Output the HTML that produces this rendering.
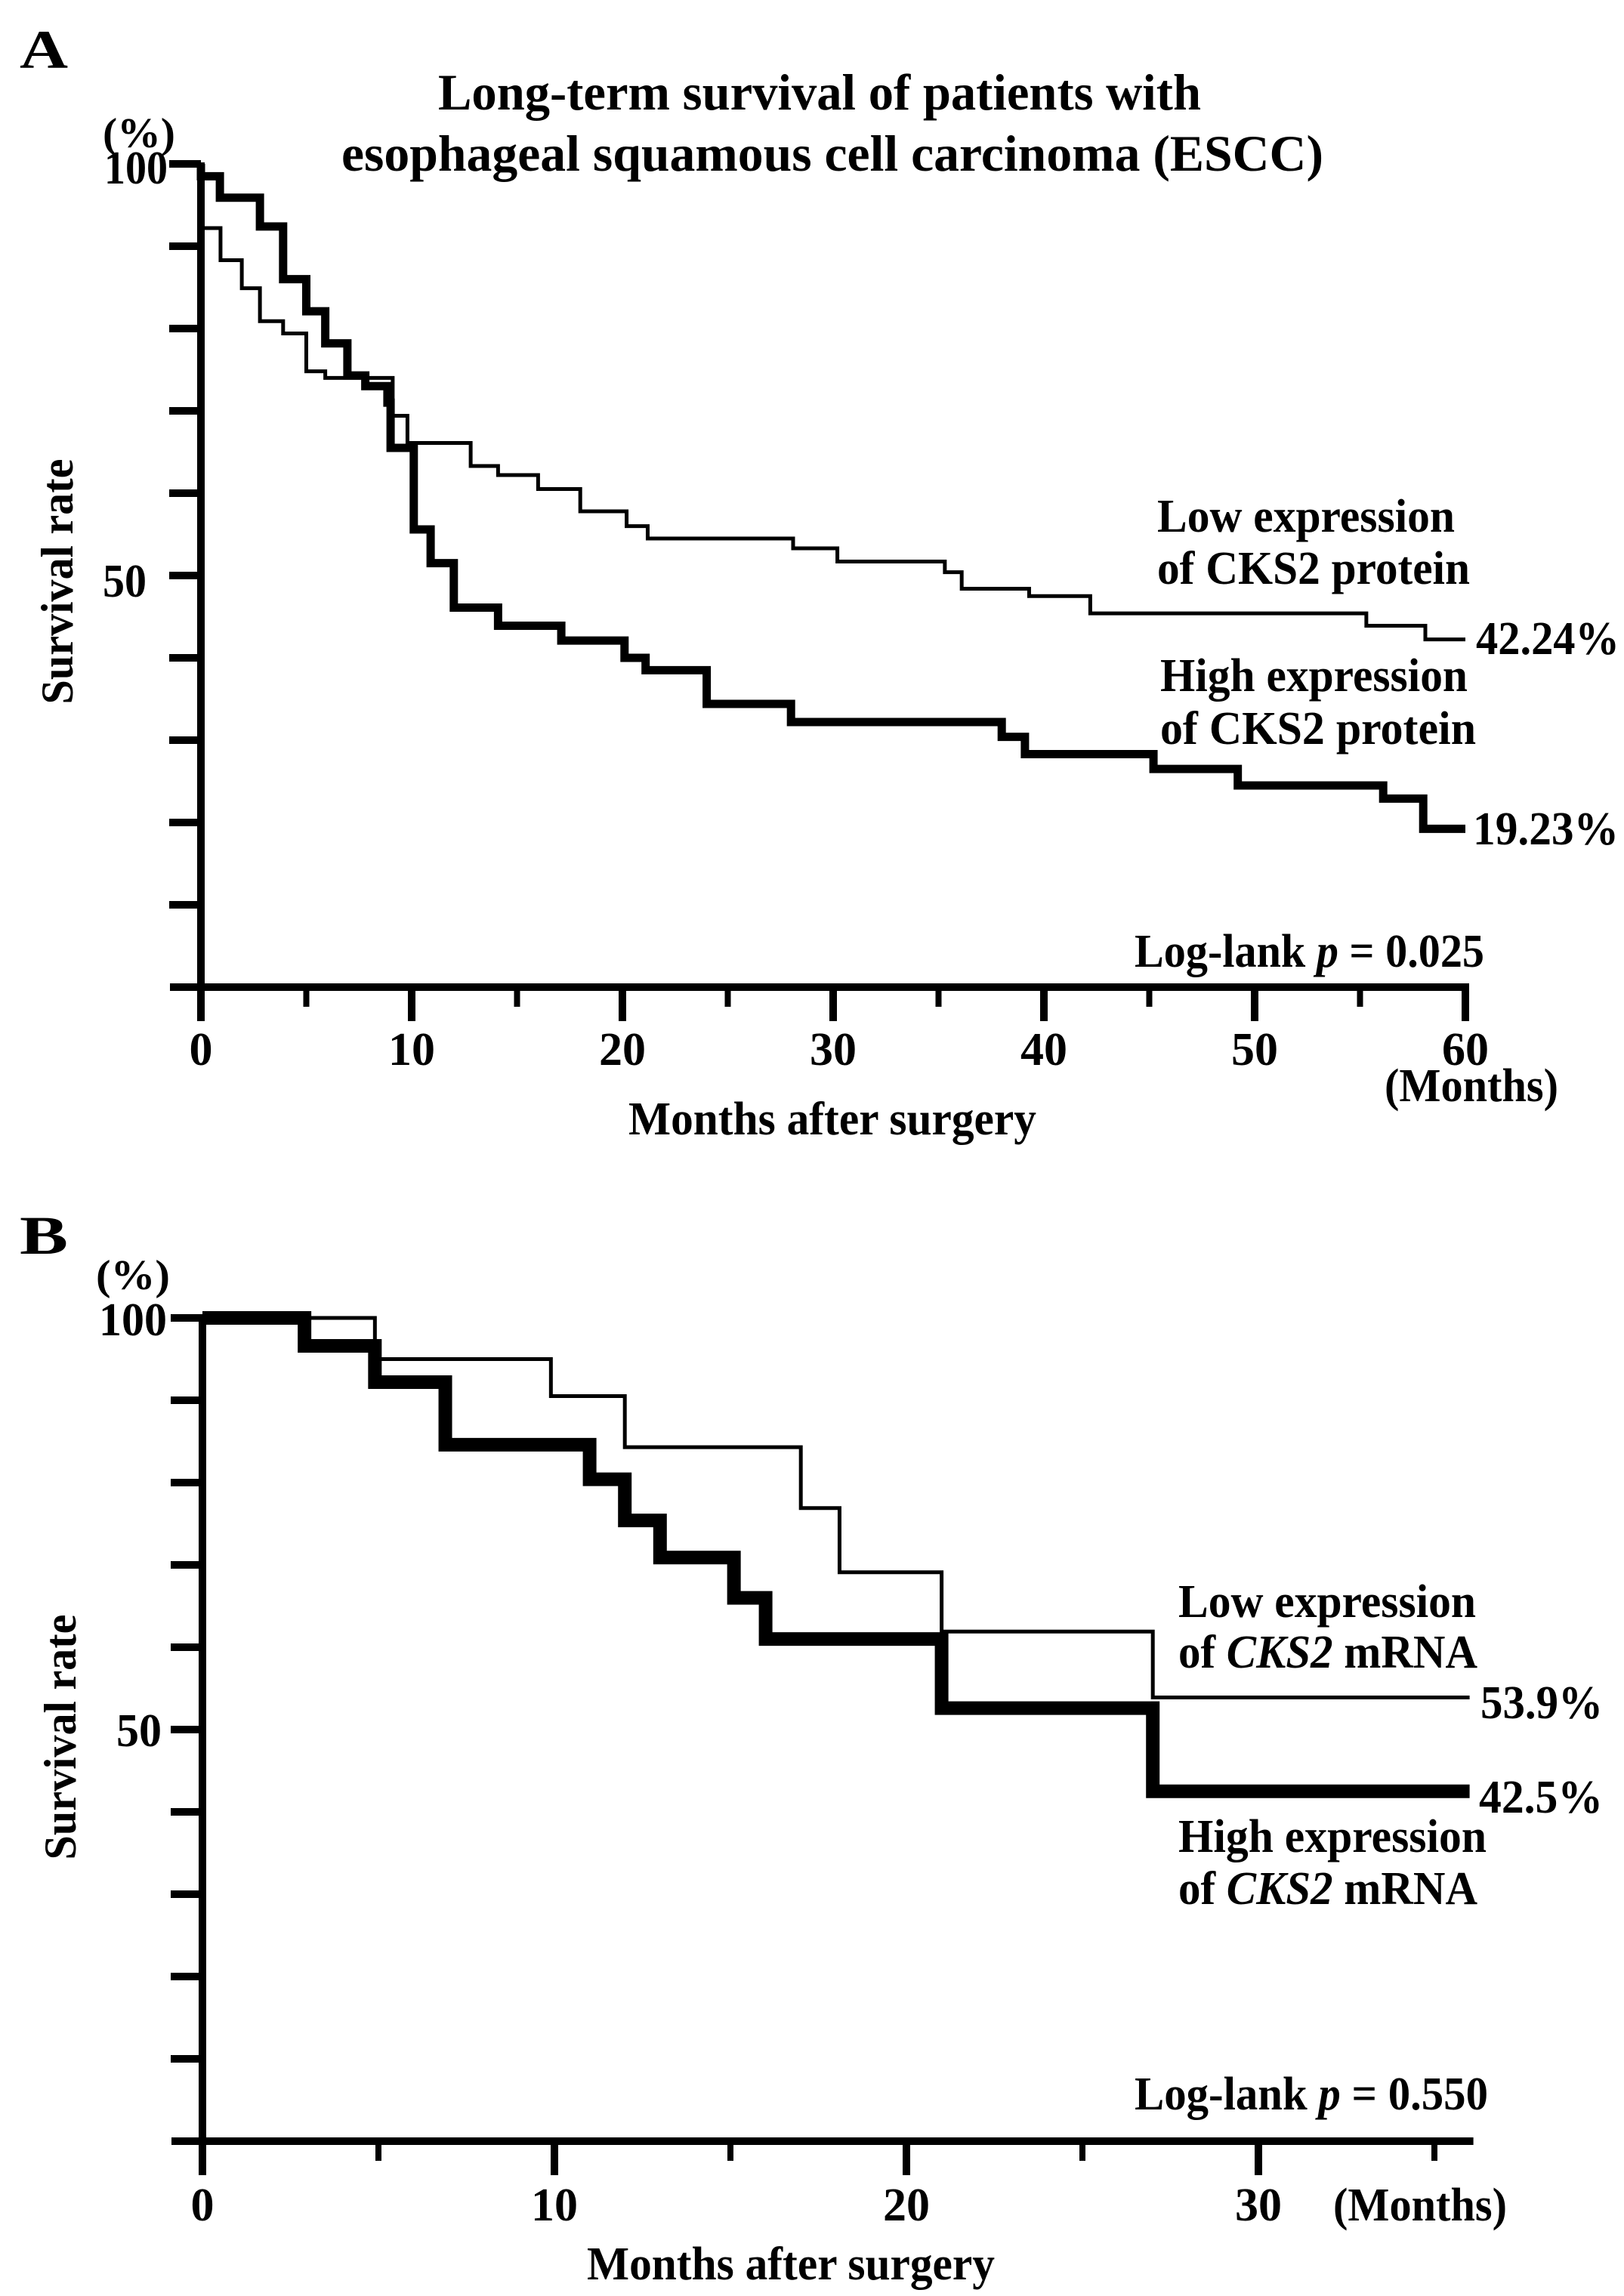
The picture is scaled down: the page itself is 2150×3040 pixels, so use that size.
<!DOCTYPE html>
<html><head><meta charset="utf-8">
<style>
html,body{margin:0;padding:0;background:#fff;}
svg{display:block;}
text{font-family:"Liberation Serif","Times New Roman",serif;font-weight:bold;fill:#000;}
</style></head>
<body>
<svg id="fig" width="2150" height="3040" viewBox="0 0 2150 3040" xmlns="http://www.w3.org/2000/svg">
<rect width="2150" height="3040" fill="#fff"/>
<g id="panelA"></g>
<g id="panelB"></g>
</svg>
<script>
// Panel A data (months, survival %)
const aHighTimes = [0,0.9,2.8,3.9,5.0,5.9,6.95,7.8,8.85,9.0,10.1,10.9,12.0,14.1,17.1,20.1,21.1,24.0,28.0,38.0,39.1,45.2,49.2,56.1,58.0];
const aHighVals  = [98.5,95.9,92.4,86,82.1,78.2,74.3,73,71,65.5,55.6,51.5,46.1,43.9,42.1,40.0,38.5,34.4,32.2,30.4,28.3,26.5,24.5,22.9,19.23];
const aLowTimes  = [0,0.93,1.94,2.8,3.9,5.0,5.9,9.1,9.8,12.8,14.1,16.0,18.0,20.2,21.2,28.1,30.2,35.3,36.1,39.3,42.2,55.3,58.1];
const aLowVals   = [92.2,88.3,84.9,80.9,79.4,74.8,74.0,69.4,66.1,63.3,62.2,60.5,57.8,56.0,54.5,53.3,51.7,50.4,48.4,47.5,45.4,43.9,42.24];
const aXTicks = [0,10,20,30,40,50,60];
const aXTickLabels = ["0","10","20","30","40","50","60"];
// Panel B data
const bHighTimes = [2.9,4.9,6.9,11.0,12.0,13.0,15.1,16.0,21.0,27.0];
const bHighVals  = [96.6,92.2,84.6,80.4,75.4,70.9,66.0,61.0,52.6,42.5];
const bLowTimes  = [4.9,9.9,12.0,17.0,18.1,21.0,27.0];
const bLowVals   = [95.0,90.5,84.3,76.9,69.1,61.9,53.9];
const bXTicks = [0,10,20,30];
const bXTickLabels = ["0","10","20","30"];

const NS = "http://www.w3.org/2000/svg";
function mk(tag, attrs, parent){
  const e = document.createElementNS(NS, tag);
  for (const k in attrs) e.setAttribute(k, attrs[k]);
  parent.appendChild(e);
  return e;
}
function txt(parent, x, y, s, size, anchor, len, name){
  const t = mk("text", {x:x, y:y, "font-size":size, "text-anchor":anchor||"start"}, parent);
  if (len){ t.setAttribute("textLength", len); t.setAttribute("lengthAdjust","spacingAndGlyphs"); }
  t.innerHTML = s;
  
  
  return t;
}

function panel(g, cfg){
  const X = m => cfg.x0 + m*cfg.ppm;
  const Y = p => cfg.y0 - p*(cfg.y0-cfg.y100)/100;
  const ya = mk("line",{x1:cfg.x0,y1:Y(100)-2,x2:cfg.x0,y2:Y(0)+5,stroke:"#000","stroke-width":10},g);
  
  
  for (let p=10;p<=100;p+=10){
    const t = mk("line",{x1:cfg.x0-42,y1:Y(p),x2:cfg.x0,y2:Y(p),stroke:"#000","stroke-width":10},g);
    
    
  }
  const xa = mk("line",{x1:cfg.x0-41,y1:Y(0),x2:X(cfg.xEnd)+5,y2:Y(0),stroke:"#000","stroke-width":10},g);
  
  
  for (let m=0;m<=cfg.xEnd+0.01;m+=5){
    const major = (m%10===0);
    const t = mk("line",{x1:X(m),y1:Y(0),x2:X(m),y2:Y(0)+(major?45:26),stroke:"#000","stroke-width":major?10:8},g);
    
    
  }
  cfg.ticks.forEach((m,i)=>{
    txt(g, X(m), cfg.tickBase, cfg.tickLabels[i], 62, "middle", null, "x-tick-label");
  });
  function curve(times, vals, end, w, name){
    let d = "M"+X(0)+","+Y(100);
    let cur = 100;
    for (let i=0;i<times.length;i++){
      d += " L"+X(times[i])+","+Y(cur)+" L"+X(times[i])+","+Y(vals[i]);
      cur = vals[i];
    }
    d += " L"+X(end)+","+Y(cur);
    const p = mk("path",{d:d,fill:"none",stroke:"#000","stroke-width":w,"stroke-linejoin":"miter","stroke-linecap":"butt"},g);
    
    
  }
  curve(cfg.lowT, cfg.lowV, cfg.xEnd, cfg.thinW, "low-expression-curve");
  curve(cfg.highT, cfg.highV, cfg.xEnd, cfg.thickW, "high-expression-curve");
}

const gA = document.getElementById("panelA");
panel(gA, {x0:266, ppm:27.9, y100:217, y0:1307, xEnd:60, ticks:aXTicks, tickLabels:aXTickLabels,
  tickBase:1410, highT:aHighTimes, highV:aHighVals, lowT:aLowTimes, lowV:aLowVals, thinW:5, thickW:11});
txt(gA, 26, 90, "A", 72, "start", 64, "panel-label-a");
txt(gA, 1085, 145, "Long-term survival of patients with", 68, "middle", 1010, "chart-title-line1");
txt(gA, 1102, 226, "esophageal squamous cell carcinoma (ESCC)", 68, "middle", 1300, "chart-title-line2");
txt(gA, 136, 195, "(%)", 56, "start", 96, "y-unit-label");
txt(gA, 222, 243, "100", 62, "end", 84, "y-tick-label-100");
txt(gA, 194, 790, "50", 62, "end", 58, "y-tick-label-50");
const saA = txt(gA, 0, 0, "Survival rate", 60, "middle", 325, "y-axis-title");
saA.setAttribute("transform","translate(96,770) rotate(-90)");
txt(gA, 1948, 1458, "(Months)", 62, "middle", 230, "x-unit-label");
txt(gA, 1102, 1502, "Months after surgery", 62, "middle", 540, "x-axis-title");
txt(gA, 1532, 704, "Low expression", 62, "start", 394, "legend-low-line1");
txt(gA, 1532, 773, "of CKS2 protein", 62, "start", 414, "legend-low-line2");
txt(gA, 1536, 915, "High expression", 62, "start", 407, "legend-high-line1");
txt(gA, 1536, 985, "of CKS2 protein", 62, "start", 418, "legend-high-line2");
txt(gA, 1954, 866, "42.24%", 62, "start", 190, "end-value-low");
txt(gA, 1950, 1118, "19.23%", 62, "start", 193, "end-value-high");
txt(gA, 1502, 1280, "Log-lank <tspan font-style=\"italic\">p</tspan> = 0.025", 62, "start", 463, "log-rank-p-value");

const gB = document.getElementById("panelB");
panel(gB, {x0:268, ppm:46.6, y100:1745, y0:2835, xEnd:36, ticks:bXTicks, tickLabels:bXTickLabels,
  tickBase:2940, highT:bHighTimes, highV:bHighVals, lowT:bLowTimes, lowV:bLowVals, thinW:5, thickW:18});
txt(gB, 26, 1660, "B", 72, "start", 64, "panel-label-b");
txt(gB, 127, 1707, "(%)", 56, "start", 98, "y-unit-label");
txt(gB, 221, 1768, "100", 62, "end", 90, "y-tick-label-100");
txt(gB, 214, 2312, "50", 62, "end", 60, "y-tick-label-50");
const saB = txt(gB, 0, 0, "Survival rate", 60, "middle", 325, "y-axis-title");
saB.setAttribute("transform","translate(100,2300) rotate(-90)");
txt(gB, 1880, 2940, "(Months)", 62, "middle", 230, "x-unit-label");
txt(gB, 1047, 3018, "Months after surgery", 62, "middle", 540, "x-axis-title");
txt(gB, 1560, 2141, "Low expression", 62, "start", 394, "legend-low-line1");
txt(gB, 1560, 2208, "of <tspan font-style=\"italic\">CKS2</tspan> mRNA", 62, "start", 396, "legend-low-line2");
txt(gB, 1560, 2452, "High expression", 62, "start", 408, "legend-high-line1");
txt(gB, 1560, 2521, "of <tspan font-style=\"italic\">CKS2</tspan> mRNA", 62, "start", 396, "legend-high-line2");
txt(gB, 1960, 2275, "53.9%", 62, "start", 162, "end-value-low");
txt(gB, 1958, 2400, "42.5%", 62, "start", 164, "end-value-high");
txt(gB, 1502, 2793, "Log-lank <tspan font-style=\"italic\">p</tspan> = 0.550", 62, "start", 468, "log-rank-p-value");
</script>
</body></html>
